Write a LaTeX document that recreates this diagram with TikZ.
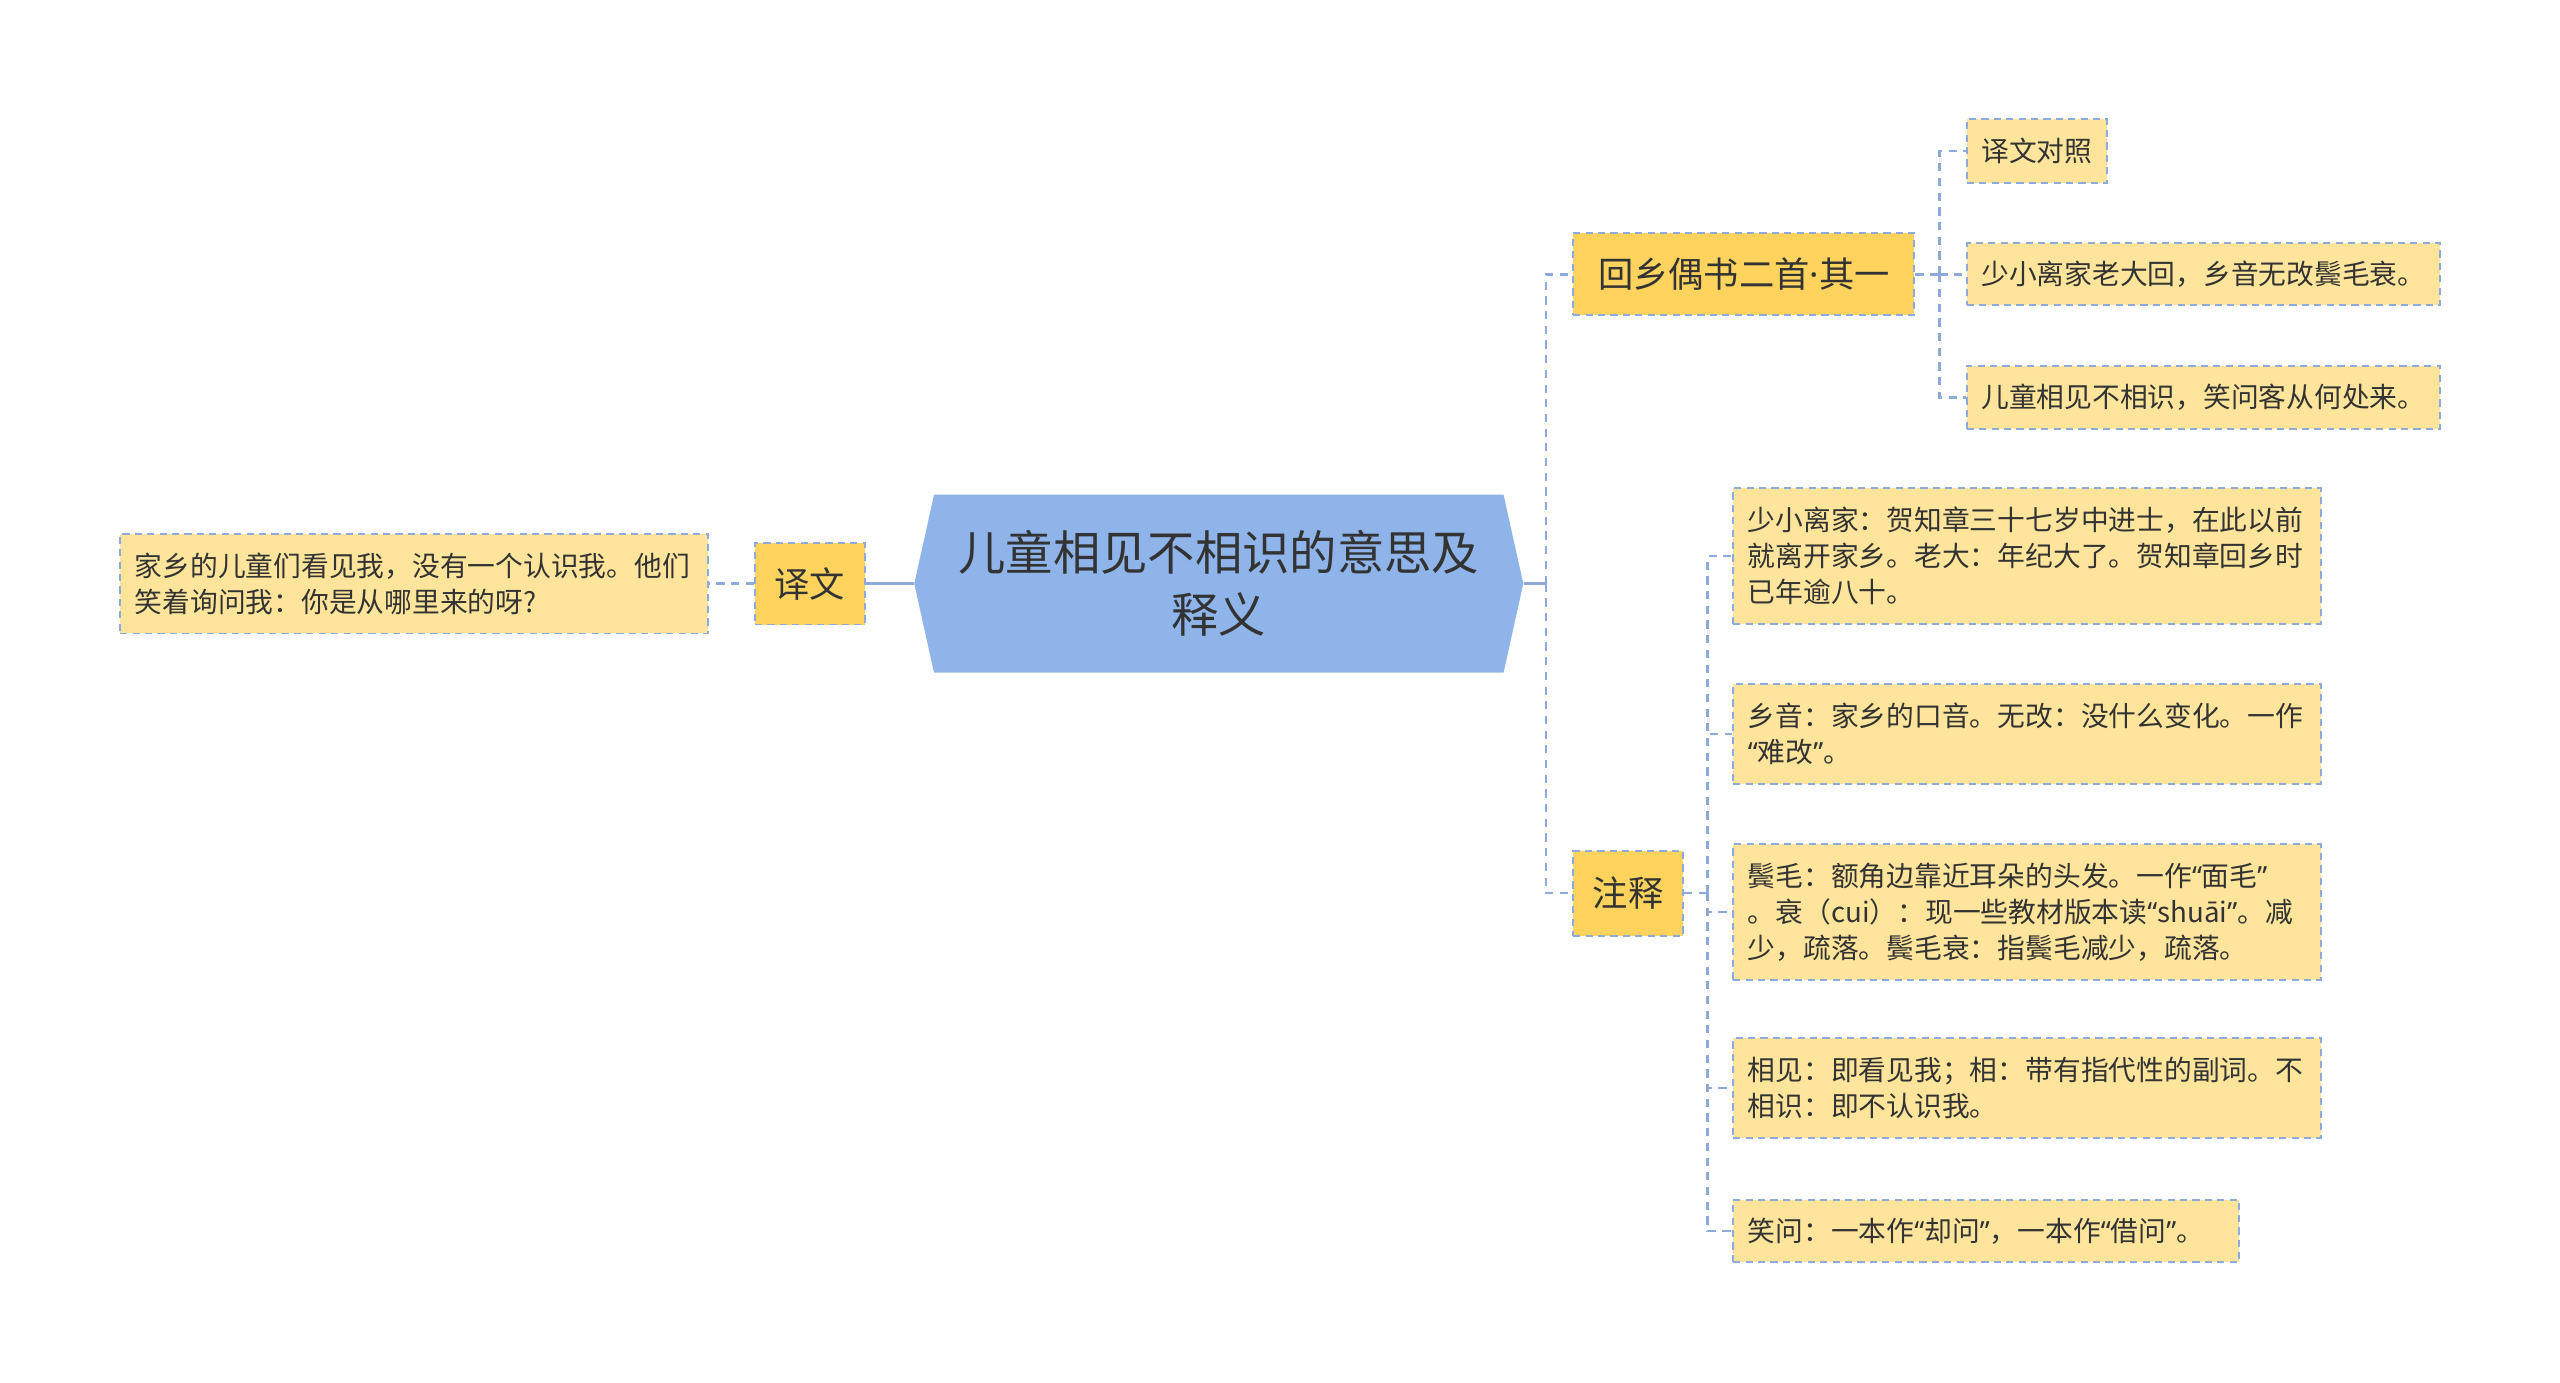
\documentclass[tikz,border=0pt]{standalone}
\usepackage{fontspec}
\usepackage{tikz}
\usetikzlibrary{shapes,calc}
\newfontfamily\cjk{Noto Sans CJK SC}
\newfontfamily\latn{Noto Sans}
\newcommand\qopen{{\latn “}}
\newcommand\qclose{{\latn ”}}
\definecolor{rootblue}{HTML}{8FB4E9}
\definecolor{topicyellow}{HTML}{FDD35E}
\definecolor{noteyellow}{HTML}{FEE59B}
\definecolor{edge}{HTML}{8DAADB}
\definecolor{ink}{HTML}{333333}
\tikzstyle{root} = [signal, signal to=west and east, signal pointer angle=155,
fill=rootblue, minimum width=186.5pt, minimum height=54.5pt, inner sep=0pt,
align=center, text=ink, font=\cjk\fontsize{14.5pt}{19pt}\selectfont]
\tikzstyle{topic} = [rectangle, fill=topicyellow, draw=edge, line width=0.6pt,
dash pattern=on 2.2pt off 1.6pt, minimum height=25pt, inner xsep=6pt, text=ink,
font=\cjk\fontsize{10.8pt}{13pt}\selectfont]
\tikzstyle{note} = [rectangle, fill=noteyellow, draw=edge, line width=0.6pt,
dash pattern=on 2.2pt off 1.6pt, inner xsep=4.5pt, align=left, anchor=west, text=ink,
font=\cjk\fontsize{8.5pt}{11pt}\selectfont]
\tikzstyle{link} = [draw=edge, line width=0.8pt, dash pattern=on 2.5pt off 2pt]

\begin{document}
\begin{tikzpicture}[x=0.5pt,y=-0.5pt]
						\fill[white] (0,0) rectangle (1568,847);
						\useasboundingbox (0,0) rectangle (1568,847);
						% centro
						\node at (746.5,357.5) [root] (title) {儿童相见不相识的意思及\\释义};
						% sinistra
						\node at (496,357.5) [topic, minimum width=33pt] (yiwen) {译文};
						\node at (73,357.5) [note, text width=171pt, minimum height=30.5pt] (yiwentext)
							{家乡的儿童们看见我，没有一个认识我。他们\\笑着询问我：你是从哪里来的呀?};
						% destra
						\node at (963,168) [topic, anchor=west, minimum width=104.5pt] (poem) {回乡偶书二首{\latn ·}其一};
						\node at (963,547) [topic, anchor=west, minimum height=26pt] (notes) {注释};
						\node at (1204,92.5) [note, text width=34pt, minimum height=19.5pt] (p0) {译文对照};
						\node at (1204,168) [note, text width=136pt, minimum height=19pt] (p1) {少小离家老大回，乡音无改鬓毛衰。};
						\node at (1204,243.5) [note, text width=136pt, minimum height=19.5pt] (p2) {儿童相见不相识，笑问客从何处来。};
						\node at (1061,340.5) [note, text width=171pt, minimum height=41.5pt] (n1)
							{少小离家：贺知章三十七岁中进士，在此以前\\就离开家乡。老大：年纪大了。贺知章回乡时\\已年逾八十。};
						\node at (1061,449.5) [note, text width=171pt, minimum height=30.5pt] (n2)
							{乡音：家乡的口音。无改：没什么变化。一作\\\qopen 难改\qclose 。};
						\node at (1061,558.5) [note, text width=171pt, minimum height=41.5pt] (n3)
							{鬓毛：额角边靠近耳朵的头发。一作\qopen 面毛\qclose\\。衰（cui）：现一些教材版本读\qopen shuāi\qclose 。减\\少，疏落。鬓毛衰：指鬓毛减少，疏落。};
						\node at (1061,666.5) [note, text width=171pt, minimum height=30.5pt] (n4)
							{相见：即看见我；相：带有指代性的副词。不\\相识：即不认识我。};
						\node at (1061,754) [note, text width=146pt, minimum height=19pt] (n5) {笑问：一本作\qopen 却问\qclose ，一本作\qopen 借问\qclose 。};
						% collegamenti
						\draw[link, solid] (title.west) -- (yiwen.east);
						\draw[link] (yiwen.west) -- (yiwentext.east);
						\coordinate (rjoin) at (947,357.5);
						\draw[link, solid] (title.east) -- (rjoin);
						\draw[link] (rjoin) |- (poem.west);
						\draw[link] (rjoin) |- (notes.west);
						\coordinate (pjoin) at (1188,168);
						\draw[link] (poem.east) -- (pjoin);
						\foreach \n in {p0,p1,p2}
							\draw[link] (pjoin) |- (\n.west);
						\coordinate (njoin) at (1046,547);
						\draw[link] (notes.east) -- (njoin);
						\foreach \n in {n1,n2,n3,n4,n5}
							\draw[link] (njoin) |- (\n.west);
					\end{tikzpicture}
\end{document}
